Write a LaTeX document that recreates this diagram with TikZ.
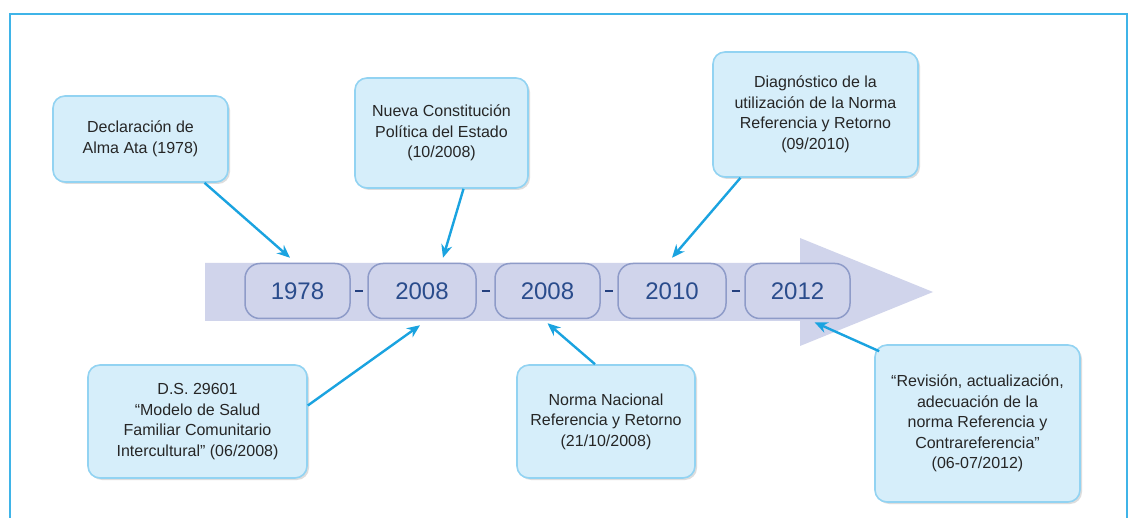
\documentclass[tikz,border=0pt]{standalone}
\usepackage{fontspec}
\setmainfont{Liberation Sans}
\usetikzlibrary{arrows.meta,calc,shadows}
\definecolor{frameblue}{HTML}{3FB4E8}
\definecolor{bandfill}{HTML}{D0D4EB}
\definecolor{yearborder}{HTML}{8E9BC8}
\definecolor{yeartext}{HTML}{2A4C8C}
\definecolor{callfill}{HTML}{D6EEFA}
\definecolor{callborder}{HTML}{92D3F2}
\definecolor{arrowblue}{HTML}{1AA3E0}
\definecolor{dashblue}{HTML}{24407E}
\tikzset{
  callout/.style={draw=callborder, line width=1.6pt, fill=callfill, rounded corners=12pt,
    align=center, text=black!85, font=\fontsize{16}{20.5}\selectfont, inner sep=0pt,
    drop shadow={shadow xshift=2pt, shadow yshift=-2pt, opacity=0.22, fill=black!60}},
  yearbox/.style={draw=yearborder, line width=1.5pt, fill=bandfill, rounded corners=15pt,
    text=yeartext, font=\fontsize{24}{28}\selectfont, minimum width=105pt, minimum height=55pt, inner sep=0pt},
  pointer/.style={draw=arrowblue, line width=2.4pt, -{Stealth[length=13pt,width=11pt]}},
  yeardash/.style={draw=dashblue, line width=2.8pt},
}
\begin{document}
\begin{tikzpicture}[x=1pt,y=-1pt]
\useasboundingbox (0,0) rectangle (1135,518);
\fill[white] (0,0) rectangle (1135,518);
% frame
\draw[frameblue, line width=2pt] (10,520) -- (10,14) -- (1127,14) -- (1127,520);
% band arrow
\fill[bandfill] (205,263) -- (800,263) -- (800,238) -- (933,292) -- (800,346) -- (800,321) -- (205,321) -- cycle;
% year boxes
\node[yearbox, minimum width=105pt] (y1978) at (297.5,291) {1978};
\node[yearbox, minimum width=108pt] (y2008a) at (422,291) {2008};
\node[yearbox, minimum width=105pt] (y2008b) at (547.5,291) {2008};
\node[yearbox, minimum width=108pt] (y2010) at (672,291) {2010};
\node[yearbox, minimum width=105pt] (y2012) at (797.5,291) {2012};
% dashes
\foreach \a/\b in {y1978/y2008a, y2008a/y2008b, y2008b/y2010, y2010/y2012}{
  \draw[yeardash] ($(\a.east)!0.5!(\b.west)$) +(-4pt,0) -- +(4pt,0);
}
% callouts
\node[callout, minimum width=175pt, minimum height=86pt] (decl) at (140.5,139)
  {Declaración de\\Alma Ata (1978)};
\node[callout, minimum width=173pt, minimum height=110pt] (nueva) at (441.5,133)
  {Nueva Constitución\\Política del Estado\\(10/2008)};
\node[callout, minimum width=205pt, minimum height=125pt] (diag) at (815.5,114.5)
  {Diagnóstico de la\\utilización de la Norma\\Referencia y Retorno\\(09/2010)};
\node[callout, minimum width=219pt, minimum height=113pt] (ds) at (197.5,421.5)
  {D.S. 29601\\“Modelo de Salud\\Familiar Comunitario\\Intercultural” (06/2008)};
\node[callout, minimum width=178pt, minimum height=113pt] (norma) at (606,421.5)
  {Norma Nacional\\Referencia y Retorno\\(21/10/2008)};
\node[callout, minimum width=205pt, minimum height=157pt] (rev) at (977.5,423.5)
  {“Revisión, actualización,\\adecuación de la\\norma Referencia y\\Contrareferencia”\\(06-07/2012)};
% pointers
\draw[pointer] ([xshift=64pt]decl.south) -- ([shift={(-7.5pt,5pt)}]y1978.north);
\draw[pointer] ([xshift=22pt]nueva.south) -- ([shift={(21pt,5pt)}]y2008a.north);
\draw[pointer] ([xshift=-75pt]diag.south) -- ([shift={(0pt,5pt)}]y2010.north);
\draw[pointer] ([yshift=16pt]ds.east) -- ([shift={(-2pt,-6pt)}]y2008a.south);
\draw[pointer] ([xshift=-11pt]norma.north) -- ([shift={(0pt,-4pt)}]y2008b.south);
\draw[pointer] ([shift={(5pt,-7pt)}]rev.north west) -- ([shift={(17pt,-3pt)}]y2012.south);
\end{tikzpicture}
\end{document}
